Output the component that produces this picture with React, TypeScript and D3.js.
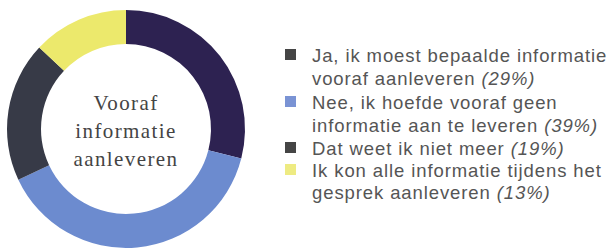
import React from "react"
import { arc, pie } from "d3"

const width = 614
const height = 251

const categories = [
  "Ja, ik moest bepaalde informatie|vooraf aanleveren",
  "Nee, ik hoefde vooraf geen|informatie aan te leveren",
  "Dat weet ik niet meer",
  "Ik kon alle informatie tijdens het|gesprek aanleveren",
]
const values = [29, 39, 19, 13]
const sliceColors = ["#2d2251", "#6c8bcf", "#373a47", "#ece96c"]
const legendColors = ["#454545", "#7a93d4", "#454545", "#eeeb82"]
const centerLines = ["Vooraf", "informatie", "aanleveren"]

const cx = 126
const cy = 129
const outerR = 119
const innerR = 85

// baselines of the legend text lines
const lineYs = [62, 85, 109, 132, 155, 177, 199]

function App() {
  const arcs = pie<number>().sort(null).value(d => d)(values)
  const arcGen = arc<any>().innerRadius(innerR).outerRadius(outerR)

  let lineIdx = 0
  const legend = categories.map((c, i) => {
    const parts = c.split("|")
    const start = lineIdx
    lineIdx += parts.length
    return { parts, start, i }
  })

  return (
    <svg width={width} height={height} style={{ position: "absolute", left: 0, top: 0 }}>
      <rect width={width} height={height} fill="#fff" />
      <g transform={`translate(${cx}, ${cy})`}>
        {arcs.map((a, i) => (
          <path key={i} d={arcGen(a) as string} fill={sliceColors[i]} />
        ))}
        {centerLines.map((t, i) => (
          <text
            key={t}
            x={0}
            y={-19 + i * 28}
            textAnchor="middle"
            fontFamily="'Liberation Serif', serif"
            fontSize={21}
            letterSpacing={1.4}
            fill="#444"
          >{t}</text>
        ))}
      </g>
      <g fontFamily="'Liberation Sans', Arial, sans-serif" fontSize={18.5} letterSpacing={0.9} fill="#555">
        {legend.map(({ parts, start, i }) => (
          <g key={i}>
            <rect x={285} y={lineYs[start] - 13} width={11} height={11} fill={legendColors[i]} />
            {parts.map((p, j) => {
              const last = j === parts.length - 1
              return (
                <text key={j} x={312} y={lineYs[start + j]}>
                  {p}
                  {last && <tspan fontStyle="italic">{` (${values[i]}%)`}</tspan>}
                </text>
              )
            })}
          </g>
        ))}
      </g>
    </svg>
  )
}

export default App
